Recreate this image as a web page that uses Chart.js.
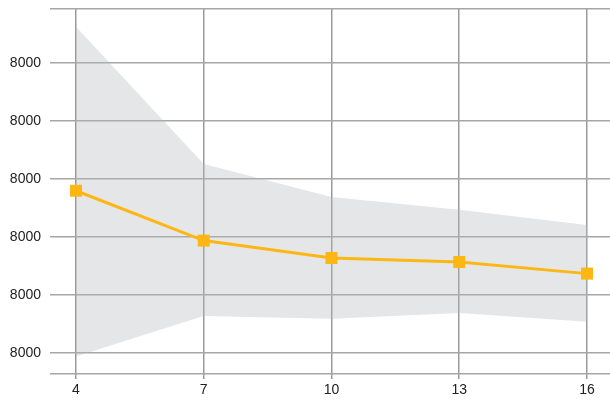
<!DOCTYPE html>
<html>
<head>
<meta charset="utf-8">
<script src="https://cdn.jsdelivr.net/npm/chart.js@4/dist/chart.umd.min.js"></script>
<style>
  html, body { margin: 0; padding: 0; background: #fff; overflow: hidden; }
  #wrap { position: absolute; left: 0; top: 0; width: 610px; height: 403px; }
  canvas { display: block; }
</style>
</head>
<body>
<div id="wrap"><canvas id="chart"></canvas></div>
<script>
// x positions and tick labels
var xValues = [4, 7, 10, 13, 16];
var xTicks = [4, 7, 10, 13, 16];

// series, in units of one y grid step
var meanValues = [2.80, 1.94, 1.64, 1.57, 1.37];
var upperValues = [5.63, 3.26, 2.69, 2.47, 2.21];
var lowerValues = [-0.06, 0.64, 0.59, 0.69, 0.54];

// y ticks and the labels shown on them
var yTicks = [0, 1, 2, 3, 4, 5];
var yTickLabels = ['8000', '8000', '8000', '8000', '8000', '8000'];

function pts(vals) {
    return xValues.map(function (x, i) { return { x: x, y: vals[i] }; });
}

var tickFont = { family: "'Liberation Sans', Arial, sans-serif", size: 14 };

var chart = new Chart(document.getElementById('chart'), {
    type: 'line',
    data: {
        datasets: [
            {
                label: 'mean',
                data: pts(meanValues),
                borderColor: '#fdb714',
                backgroundColor: '#fdb714',
                borderWidth: 3,
                pointStyle: 'rect',
                pointRadius: 8.5,
                pointBorderWidth: 0,
                fill: false,
                clip: false,
                order: 0
            },
            {
                label: 'upper',
                data: pts(upperValues),
                borderWidth: 0,
                pointRadius: 0,
                backgroundColor: 'rgba(180,182,188,0.35)',
                fill: '+1',
                order: 1
            },
            {
                label: 'lower',
                data: pts(lowerValues),
                borderWidth: 0,
                pointRadius: 0,
                fill: false,
                order: 2
            }
        ]
    },
    options: {
        animation: false,
        responsive: true,
        maintainAspectRatio: false,
        layout: { autoPadding: false, padding: { top: 9, right: 0, left: 0, bottom: 0 } },
        plugins: {
            legend: { display: false },
            tooltip: { enabled: false }
        },
        scales: {
            x: {
                type: 'linear',
                min: 3.39,
                max: 16.54,
                afterBuildTicks: function (scale) {
                    scale.ticks = xTicks.map(function (v) { return { value: v }; });
                },
                afterFit: function (scale) {
                    scale.height = 29;
                    scale.paddingLeft = 0;
                    scale.paddingRight = 0;
                },
                grid: { color: '#9a9a9a', lineWidth: 1.5, tickLength: 5, drawOnChartArea: true },
                border: { display: false },
                ticks: {
                    color: '#222',
                    font: tickFont,
                    padding: 3,
                    maxRotation: 0
                }
            },
            y: {
                type: 'linear',
                min: -0.362,
                max: 5.936,
                afterFit: function (scale) {
                    scale.width = 50;
                    scale.paddingTop = 0;
                    scale.paddingBottom = 0;
                },
                grid: { color: '#a6a6a6', lineWidth: 1.5, drawTicks: false },
                border: { display: false },
                ticks: {
                    stepSize: 1,
                    color: '#222',
                    padding: 9,
                    font: tickFont,
                    callback: function (value) {
                        for (var i = 0; i < yTicks.length; i++) {
                            if (Math.abs(yTicks[i] - value) < 1e-6) return yTickLabels[i];
                        }
                        return '';
                    }
                }
            }
        }
    }
});
</script>
</body>
</html>
